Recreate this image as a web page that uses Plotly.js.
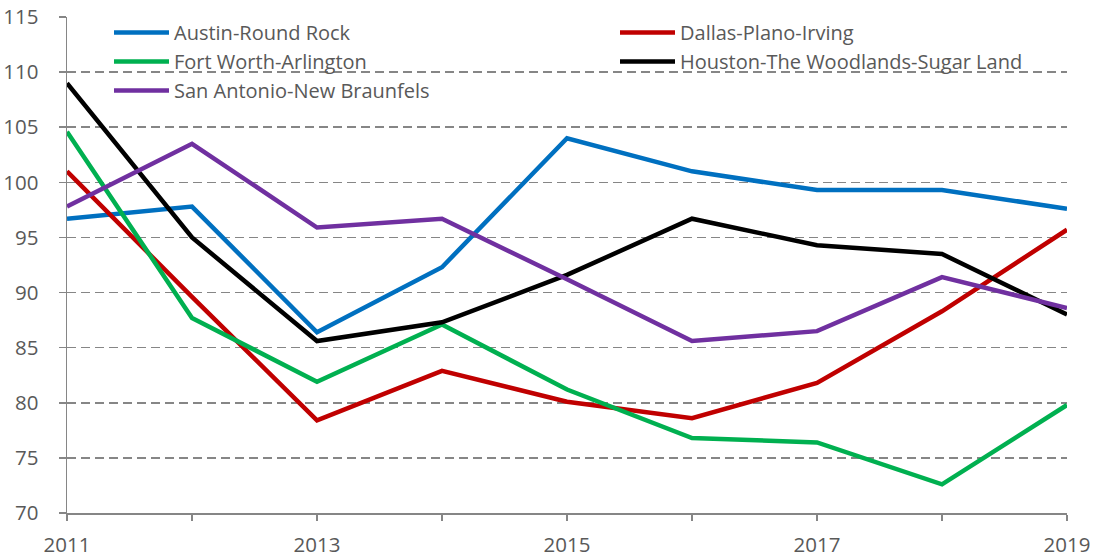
<!DOCTYPE html>
<html>
<head>
<meta charset="utf-8">
<script src="https://cdn.plot.ly/plotly-3.0.1.min.js"></script>
<style>html,body{margin:0;padding:0;background:#fff;}#chart{width:1097px;height:557px;}</style>
</head>
<body>
<div id="chart"></div>
<script>
const years = [2011, 2012, 2013, 2014, 2015, 2016, 2017, 2018, 2019];
const tickLabels = ["2011", "", "2013", "", "2015", "", "2017", "", "2019"];
const austin = [96.7, 97.8, 86.4, 92.3, 104.0, 101.0, 99.3, 99.3, 97.6];
const dallas = [101.0, 89.6, 78.4, 82.9, 80.1, 78.6, 81.8, 88.3, 95.7];
const fortWorth = [104.6, 87.7, 81.9, 87.1, 81.2, 76.8, 76.4, 72.6, 79.8];
const houston = [109.0, 95.0, 85.6, 87.3, 91.6, 96.7, 94.3, 93.5, 88.0];
const sanAntonio = [97.8, 103.5, 95.9, 96.7, 91.2, 85.6, 86.5, 91.4, 88.6];

const series = [
  {name: "Austin-Round Rock", y: austin, color: "#0070C0", legend: "legend"},
  {name: "Dallas-Plano-Irving", y: dallas, color: "#C00000", legend: "legend2"},
  {name: "Fort Worth-Arlington", y: fortWorth, color: "#00B050", legend: "legend"},
  {name: "Houston-The Woodlands-Sugar Land", y: houston, color: "#000000", legend: "legend2"},
  {name: "San Antonio-New Braunfels", y: sanAntonio, color: "#7030A0", legend: "legend"}
];

const traces = series.map(s => ({
  type: "scatter", mode: "lines", name: s.name, x: years, y: s.y,
  legend: s.legend, legendgroup: s.name,
  line: {color: s.color, width: 4.5}
}));

const font = {family: "'Open Sans', Lato, sans-serif", size: 20.5, color: "#595959"};
const legendFont = {family: "'Open Sans', Lato, sans-serif", size: 20, color: "#595959"};

function legendBox(x) {
  return {
    orientation: "v", x: x, y: 1.008, xanchor: "left", yanchor: "top",
    itemwidth: 55, tracegroupgap: 0, bgcolor: "rgba(255,255,255,0)",
    font: legendFont, traceorder: "normal"
  };
}

const layout = {
  width: 1097, height: 557,
  margin: {l: 67, r: 30, t: 17, b: 44},
  paper_bgcolor: "#fff", plot_bgcolor: "#fff",
  font: font,
  showlegend: true,
  legend: legendBox(0.042),
  legend2: legendBox(0.548),
  xaxis: {
    range: [2011, 2019], tickvals: years, ticktext: tickLabels,
    showgrid: false, zeroline: false, automargin: false,
    showline: true, linecolor: "#868686", linewidth: 1.5,
    ticks: "outside", ticklen: 6, tickcolor: "#868686", tickwidth: 1.5,
    ticklabelstandoff: 7,
    tickfont: font
  },
  yaxis: {
    range: [70, 115], dtick: 5, tick0: 70,
    showgrid: true, gridcolor: "#868686", griddash: "9px,5px", gridwidth: 1.5,
    zeroline: false, automargin: false,
    showline: true, linecolor: "#868686", linewidth: 1.5,
    ticks: "outside", ticklen: 7, tickcolor: "#868686", tickwidth: 1.5,
    ticklabelstandoff: 16,
    tickfont: font
  }
};

Plotly.newPlot("chart", traces, layout, {displayModeBar: false, staticPlot: true});
</script>
</body>
</html>
